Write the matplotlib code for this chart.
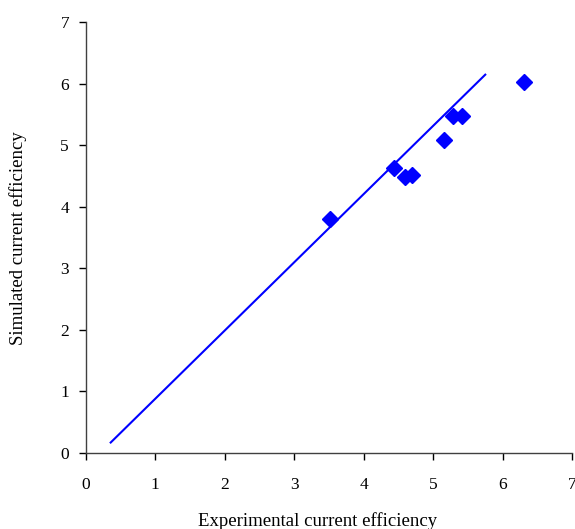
import matplotlib
matplotlib.use("Agg")
import matplotlib.pyplot as plt

plt.rcParams['font.family'] = ['Liberation Serif', 'DejaVu Serif']

# Experimental vs simulated current efficiency
experimental = [3.52, 4.44, 4.60, 4.70, 5.15, 5.29, 5.42, 6.31]
simulated = [3.80, 4.63, 4.48, 4.52, 5.09, 5.48, 5.48, 6.03]

# Trend line end points
line_x = [0.36, 5.75]
line_y = [0.17, 6.15]

ticks = [0, 1, 2, 3, 4, 5, 6, 7]

fig = plt.figure(figsize=(5.75, 5.29), dpi=100)
ax = fig.add_axes([0.149, 0.1437, 0.846, 0.814])

ax.plot(line_x, line_y, color='#0000FF', linewidth=1.5, zorder=2)
ax.plot(experimental, simulated, linestyle='none', marker='D', markersize=8,
        color='#0000FF', markeredgecolor='#0000FF', zorder=3)

ax.set_xlim(0, 7)
ax.set_ylim(0, 7)
ax.set_xticks(ticks)
ax.set_yticks(ticks)
ax.tick_params(direction='out', length=5, width=1, labelsize=12.5, colors='black')
ax.tick_params(axis='x', pad=12)
ax.tick_params(axis='y', pad=7)
for side in ('top', 'right'):
    ax.spines[side].set_visible(False)
for side in ('left', 'bottom'):
    ax.spines[side].set_color('#404040')
    ax.spines[side].set_linewidth(1)

ax.set_xlabel('Experimental current efficiency', fontsize=13.5)
ax.set_ylabel('Simulated current efficiency', fontsize=13.5)
ax.xaxis.set_label_coords(0.476, -0.137)
ax.yaxis.set_label_coords(-0.12, 0.5)

fig.savefig('out.png', dpi=100)
